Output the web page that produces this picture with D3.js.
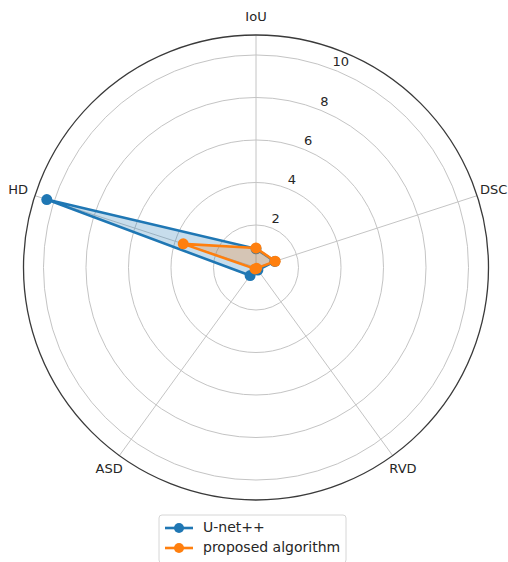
<!DOCTYPE html>
<html>
<head>
<meta charset="utf-8">
<script src="https://cdn.jsdelivr.net/npm/d3@7"></script>
<style>
  body { margin: 0; background: #fff; }
  text { font-family: "DejaVu Sans", sans-serif; fill: #262626; }
</style>
</head>
<body>
<svg id="chart" width="508" height="562"></svg>
<script>
// axes of the radar, clockwise from the top
var categories = ["IoU", "DSC", "RVD", "ASD", "HD"]
var unetpp = [0.88, 0.93, 0.15, 0.47, 10.35]
var proposed = [0.92, 0.95, 0.05, 0.08, 3.6]
var seriesNames = ["U-net++", "proposed algorithm"]
var ringTicks = [2, 4, 6, 8, 10]
var rMax = 10.94

var colors = ["#1f77b4", "#ff7f0e"]
var cx = 256, cy = 267.5, outerR = 232.5

var svg = d3.select("#chart")
var g = svg.append("g").attr("transform", "translate(" + cx + "," + cy + ")")

var r = d3.scaleLinear().domain([0, rMax]).range([0, outerR])
var angle = d3.scalePoint().domain(categories.concat(["_end"])).range([0, 2 * Math.PI])

// grid rings
g.selectAll("circle.ring").data(ringTicks).enter().append("circle")
  .attr("class", "ring")
  .attr("r", d => r(d))
  .style("fill", "none").style("stroke", "#c4c4c4").style("stroke-width", 1)

// spokes
g.selectAll("line.spoke").data(categories).enter().append("line")
  .attr("x1", 0).attr("y1", 0)
  .attr("x2", d => outerR * Math.sin(angle(d)))
  .attr("y2", d => -outerR * Math.cos(angle(d)))
  .style("stroke", "#c4c4c4").style("stroke-width", 1)

// outer frame
g.append("circle").attr("r", outerR)
  .style("fill", "none").style("stroke", "#3a3a3a").style("stroke-width", 1.3)

// ring labels at 22.5 deg clockwise from top
var labAng = 22.5 * Math.PI / 180
g.selectAll("text.rlab").data(ringTicks).enter().append("text")
  .attr("x", d => (r(d) + 9) * Math.sin(labAng))
  .attr("y", d => -(r(d) + 9) * Math.cos(labAng))
  .attr("text-anchor", "middle").attr("dominant-baseline", "middle")
  .style("font-size", "13px")
  .text(d => d)

// category labels
g.selectAll("text.cat").data(categories).enter().append("text")
  .attr("x", d => 250 * Math.sin(angle(d)))
  .attr("y", d => -250 * Math.cos(angle(d)))
  .attr("text-anchor", "middle").attr("dominant-baseline", "middle")
  .style("font-size", "13px")
  .text(d => d)

var radial = d3.lineRadial()
  .angle((d, i) => angle(categories[i]))
  .radius(d => r(d))
  .curve(d3.curveLinearClosed)

;[unetpp, proposed].forEach(function (vals, k) {
  g.append("path").attr("d", radial(vals))
    .style("fill", colors[k]).style("fill-opacity", 0.25).style("stroke", "none")
  g.append("path").attr("d", radial(vals))
    .style("fill", "none").style("stroke", colors[k]).style("stroke-width", 2.6)
    .style("stroke-linejoin", "round")
  g.selectAll("circle.pt" + k).data(vals).enter().append("circle")
    .attr("cx", (d, i) => r(d) * Math.sin(angle(categories[i])))
    .attr("cy", (d, i) => -r(d) * Math.cos(angle(categories[i])))
    .attr("r", 5.5)
    .style("fill", colors[k])
})

// legend
var lg = svg.append("g").attr("transform", "translate(159,515)")
lg.append("rect").attr("width", 187).attr("height", 48).attr("rx", 3)
  .style("fill", "#fff").style("stroke", "#d6d6d6")
seriesNames.forEach(function (name, k) {
  var y = 13 + k * 20
  lg.append("line").attr("x1", 6).attr("x2", 34).attr("y1", y).attr("y2", y)
    .style("stroke", colors[k]).style("stroke-width", 2.6)
  lg.append("circle").attr("cx", 20).attr("cy", y).attr("r", 5).style("fill", colors[k])
  lg.append("text").attr("x", 44).attr("y", y).attr("dominant-baseline", "middle")
    .style("font-size", "14px").text(name)
})
</script>
</body>
</html>
